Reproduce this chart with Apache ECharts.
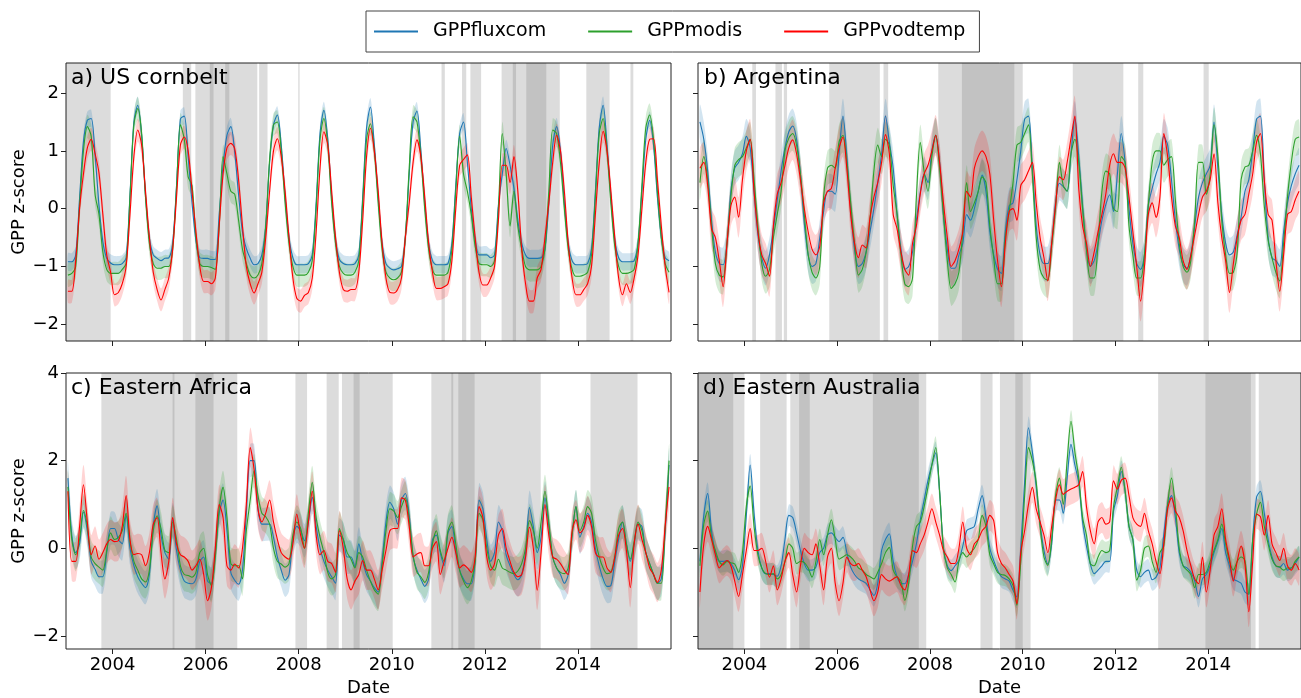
<!DOCTYPE html>
<html><head><meta charset="utf-8">
<script src="https://cdn.jsdelivr.net/npm/echarts@6/dist/echarts.min.js"></script>
<style>html,body{margin:0;padding:0;background:#fff}#chart{width:1301px;height:698px}</style>
</head><body><div id="chart"></div>
<script>
// ---------- data (monthly values, Jan 2003 .. Dec 2015) ----------
const START_YEAR = 2003;
const xTickLabels = [2004, 2006, 2008, 2010, 2012, 2014];
const yTicksTop = [-2, -1, 0, 1, 2];
const yTicksBottom = [-2, 0, 2, 4];
const seriesNames = ['GPPfluxcom', 'GPPmodis', 'GPPvodtemp'];
const panelTitles = ['a) US cornbelt', 'b) Argentina', 'c) Eastern Africa', 'd) Eastern Australia'];

// a) US cornbelt
const usFluxcom = [
-0.92,-0.92,-0.80,0.18,1.16,1.53,1.56,0.93,0.06,-0.57,-0.86,-0.94,
-0.97,-0.97,-0.95,-0.85,0.24,1.50,1.79,1.27,0.24,-0.51,-0.80,-0.86,
-0.90,-0.86,-0.85,-0.60,0.40,1.55,1.60,0.90,0.10,-0.55,-0.85,-0.86,
-0.86,-0.88,-0.88,-0.10,0.75,1.27,1.42,0.98,0.24,-0.40,-0.69,-0.86,
-0.97,-0.95,-0.80,-0.30,0.80,1.45,1.62,1.10,0.20,-0.50,-0.85,-0.97,
-0.97,-0.97,-0.95,-0.80,0.10,1.30,1.70,1.20,0.20,-0.55,-0.88,-0.95,
-0.97,-0.97,-0.95,-0.80,0.20,1.40,1.76,1.10,0.20,-0.60,-0.95,-1.03,
-1.06,-1.04,-1.00,-0.50,0.60,1.50,1.69,1.00,0.10,-0.60,-0.90,-0.97,
-0.97,-0.97,-0.95,-0.60,0.40,1.30,1.50,0.80,0.00,-0.55,-0.80,-0.80,
-0.80,-0.85,-0.80,0.06,0.60,1.04,0.75,0.35,-0.20,-0.60,-0.80,-0.86,
-0.86,-0.86,-0.85,-0.70,0.10,1.10,1.42,1.00,0.10,-0.60,-0.90,-0.97,
-0.97,-0.97,-0.95,-0.70,0.30,1.40,1.79,1.10,0.20,-0.55,-0.85,-0.92,
-0.92,-0.92,-0.90,-0.60,0.30,1.20,1.53,1.10,0.20,-0.50,-0.85,-0.90];
const usModis = [
-1.15,-1.12,-1.00,0.05,1.00,1.42,1.25,0.25,-0.10,-0.75,-1.05,-1.12,
-1.12,-1.12,-1.05,-0.95,0.20,1.45,1.73,1.30,0.20,-0.60,-0.95,-1.03,
-1.03,-1.00,-1.00,-0.70,0.35,1.45,1.20,0.55,0.40,-0.50,-0.95,-1.00,
-1.00,-1.02,-1.05,-0.30,0.90,0.60,0.30,0.25,-0.20,-0.70,-0.95,-1.15,
-1.20,-1.15,-0.95,-0.30,0.85,1.45,1.50,1.00,0.10,-0.60,-1.00,-1.15,
-1.15,-1.15,-1.10,-0.90,0.00,1.20,1.56,1.10,0.10,-0.60,-1.00,-1.12,
-1.15,-1.15,-1.10,-0.90,0.10,1.20,1.47,1.00,0.10,-0.70,-1.10,-1.20,
-1.23,-1.20,-1.10,-0.50,0.70,1.59,1.50,0.90,0.00,-0.70,-1.05,-1.15,
-1.15,-1.15,-1.10,-0.70,0.30,1.25,0.60,0.30,-0.10,-0.65,-0.95,-0.97,
-0.97,-1.00,-0.90,0.00,1.30,0.60,-0.30,0.30,-0.30,-0.70,-1.00,-1.06,
-1.06,-1.06,-1.00,-0.70,0.30,1.36,1.30,0.80,0.00,-0.70,-1.05,-1.17,
-1.17,-1.15,-1.10,-0.80,0.20,1.30,1.56,1.00,0.10,-0.65,-1.00,-1.12,
-1.12,-1.10,-1.05,-0.60,0.40,1.40,1.62,1.20,0.30,-0.50,-0.95,-1.10];
const usVodtemp = [
-1.43,-1.43,-0.90,0.00,0.60,1.05,1.20,0.95,0.62,-0.10,-0.80,-1.10,
-1.49,-1.45,-1.30,-1.00,-0.10,0.90,1.36,1.10,0.30,-0.50,-1.10,-1.40,
-1.58,-1.40,-1.20,-0.70,0.20,1.10,1.24,1.00,0.30,-0.40,-1.00,-1.26,
-1.26,-1.30,-1.20,-0.30,0.60,1.05,1.13,1.04,0.50,-0.30,-1.00,-1.30,
-1.46,-1.30,-1.10,-0.50,0.30,1.00,1.21,0.90,0.30,-0.50,-1.20,-1.55,
-1.60,-1.50,-1.45,-1.20,-0.40,0.70,1.33,1.10,0.30,-0.50,-1.10,-1.40,
-1.43,-1.40,-1.40,-1.10,-0.20,0.90,1.39,1.00,0.30,-0.60,-1.20,-1.45,
-1.46,-1.40,-1.20,-0.50,0.10,0.80,1.19,0.90,0.20,-0.60,-1.10,-1.38,
-1.38,-1.35,-1.30,-0.90,0.00,0.75,0.85,0.93,0.20,-0.50,-1.10,-1.32,
-1.32,-1.20,-1.00,-0.20,0.75,0.75,0.45,0.90,0.30,-0.70,-1.30,-1.60,
-1.60,-1.20,-1.05,-0.50,0.10,0.80,1.27,1.00,0.30,-0.60,-1.20,-1.49,
-1.49,-1.40,-1.30,-1.00,-0.10,0.80,1.34,1.00,0.30,-0.50,-1.20,-1.49,
-1.30,-1.45,-1.20,-0.80,0.00,0.80,1.20,1.21,0.50,-0.30,-1.00,-1.45];
const usBand = [0.15, 0.2, 0.2];
const usSpans = [[2003.0,2003.96],[2005.51,2005.69],[2005.78,2007.11],[2007.15,2007.33],[2007.99,2008.02],[2011.07,2011.14],[2011.51,2011.60],[2011.69,2011.92],[2012.36,2013.61],[2014.18,2014.68],[2015.13,2015.19]];
const usOverlap = [[2006.09,2006.17],[2006.42,2006.51],[2012.60,2012.67],[2012.89,2013.32]];

// b) Argentina
const arFluxcom = [
1.50,1.20,0.65,-0.20,-0.75,-0.95,-0.97,-0.60,0.30,0.70,0.80,0.95,
1.25,1.05,0.30,-0.45,-0.85,-1.03,-0.80,-0.35,0.15,0.65,1.05,1.33,
1.43,1.20,0.60,-0.25,-0.80,-1.00,-0.95,-0.50,-0.05,0.30,0.30,0.25,
0.95,1.60,0.90,0.00,-0.70,-1.00,-0.95,-0.75,-0.40,0.00,0.45,0.95,
1.60,1.15,0.70,-0.10,-0.70,-1.05,-1.00,-0.75,-0.20,0.28,0.60,0.45,
1.00,1.27,0.80,-0.10,-0.70,-1.03,-1.03,-0.80,-0.60,-0.10,-0.20,0.00,
0.30,0.58,0.30,-0.40,-0.80,-1.05,-1.12,-0.40,0.05,0.10,0.50,1.00,
1.55,1.60,0.70,-0.30,-0.80,-0.95,-0.95,-0.60,0.10,0.44,0.38,0.30,
0.95,1.56,0.90,0.05,-0.70,-1.00,-0.90,-0.60,-0.20,0.07,0.24,-0.05,
0.60,1.30,0.80,0.00,-0.60,-0.95,-1.05,-0.80,0.06,0.35,0.60,0.80,
1.25,1.10,0.50,-0.20,-0.70,-0.97,-1.03,-0.80,-0.30,0.20,0.45,0.60,
0.75,1.50,0.70,-0.10,-0.60,-0.80,-0.75,-0.45,-0.15,0.30,0.50,1.00,
1.55,1.60,0.50,-0.50,-0.85,-0.90,-1.00,-0.40,0.10,0.40,0.60,0.75];
const arModis = [
0.45,0.90,0.50,-0.30,-0.95,-1.15,-1.18,-0.60,0.20,0.75,0.85,0.90,
1.05,1.20,0.50,-0.30,-0.95,-1.17,-1.05,-0.50,-0.10,0.30,1.00,1.22,
1.30,1.10,0.60,-0.10,-0.80,-1.10,-1.20,-1.00,0.20,0.70,0.75,0.70,
1.16,1.27,0.80,0.10,-0.60,-1.15,-1.05,-0.75,-0.20,0.65,1.10,0.90,
1.20,1.10,0.40,-0.10,-0.80,-1.30,-1.35,-1.20,0.20,1.15,0.64,0.30,
0.90,1.27,0.70,-0.10,-0.90,-1.38,-1.30,-1.10,-0.40,0.45,-0.05,0.10,
0.30,0.55,0.45,-0.30,-0.85,-1.30,-1.30,-0.50,-0.05,0.45,1.10,1.15,
1.30,1.45,0.60,-0.50,-1.05,-1.20,-1.24,-0.65,0.00,0.80,0.40,0.30,
0.95,1.20,0.80,0.00,-0.70,-1.20,-1.20,-0.60,0.30,0.65,0.60,0.00,
-0.05,0.90,0.80,-0.30,-0.80,-1.20,-1.20,-0.80,0.06,0.80,1.00,1.00,
0.75,0.85,0.90,0.15,-0.60,-1.00,-1.10,-0.90,-0.20,0.80,0.80,0.25,
0.60,1.45,0.90,-0.20,-0.80,-1.12,-1.10,-0.75,0.50,0.72,0.75,1.00,
1.27,0.95,0.05,-0.55,-0.85,-1.10,-1.25,-0.60,0.20,0.80,1.20,1.24];
const arVodtemp = [
0.70,0.80,0.40,-0.35,-0.50,-0.90,-1.35,-0.60,0.05,0.20,-0.15,0.50,
1.00,1.20,0.30,-0.40,-0.80,-0.95,-1.17,-0.30,0.25,0.45,0.75,1.05,
1.19,0.95,0.50,0.00,-0.40,-0.70,-0.80,-0.65,0.10,0.30,0.35,0.70,
1.05,1.24,0.70,-0.10,-0.60,-0.85,-0.63,-0.68,-0.15,0.20,0.45,0.80,
1.28,0.95,-0.10,-0.35,-0.75,-1.05,-1.15,-0.60,-0.30,0.25,0.60,0.75,
1.00,1.27,0.80,0.10,-0.50,-1.00,-0.90,-0.70,-0.40,0.30,0.20,0.70,
0.90,1.00,0.90,0.60,-0.20,-0.90,-1.35,-0.60,-0.05,0.00,-0.20,0.40,
0.50,0.65,0.80,0.10,-0.50,-0.85,-1.25,-0.60,0.05,0.55,0.50,0.80,
1.22,1.60,0.35,-0.30,-0.60,-1.00,-0.75,-0.40,-0.10,0.25,0.75,0.95,
0.80,0.80,0.70,0.20,-0.40,-1.00,-1.60,-1.00,-0.10,0.10,-0.15,0.20,
1.30,0.90,0.20,-0.30,-0.50,-0.90,-1.05,-0.80,-0.45,-0.10,0.20,0.30,
0.50,0.95,0.10,-0.50,-0.90,-1.45,-0.95,-0.50,-0.20,-0.10,0.25,0.60,
1.15,1.30,0.50,-0.10,-0.20,-0.90,-1.43,-0.80,-0.10,-0.05,0.15,0.30];
const arBand = [0.3, 0.3, 0.35];
const arSpans = [[2004.17,2004.25],[2004.67,2004.81],[2004.85,2004.92],[2005.83,2006.92],[2007.0,2007.10],[2008.18,2010.0],[2011.08,2012.17],[2012.49,2012.60],[2013.90,2014.01]];
const arOverlap = [[2008.69,2009.82]];

// c) Eastern Africa
const eafFluxcom = [
1.60,0.30,-0.10,0.10,0.82,0.40,-0.30,-0.48,-0.65,-0.65,-0.10,0.45,
0.45,0.20,0.10,0.75,0.00,-0.40,-0.65,-0.80,-0.90,-0.60,0.50,0.97,
0.30,-0.10,-0.25,0.65,-0.05,-0.50,-0.75,-0.80,-0.81,-0.70,-0.30,-0.20,
-0.75,-0.80,-0.10,0.80,1.10,0.40,-0.55,-0.73,-0.82,-0.50,0.80,2.00,
2.00,0.90,0.55,0.55,0.55,0.25,-0.20,-0.50,-0.73,-0.60,0.20,0.50,
0.40,0.17,0.60,1.16,0.50,0.00,-0.30,-0.50,-0.65,-0.80,0.30,0.20,
-0.20,-0.20,-0.43,0.10,-0.30,-0.60,-0.75,-0.90,-1.00,-0.30,0.60,1.05,
0.90,0.55,1.10,1.25,0.75,-0.20,-0.50,-0.70,-0.87,-0.70,0.20,0.30,
-0.10,-0.40,0.35,0.50,-0.05,-0.50,-0.70,-0.81,-0.81,-0.30,1.10,0.90,
0.20,-0.30,-0.10,0.60,0.40,-0.15,-0.40,-0.60,-0.72,-0.60,-0.10,0.93,
0.50,-0.10,0.25,1.15,0.50,-0.20,-0.45,-0.60,-0.80,-0.60,0.30,0.95,
0.25,0.50,0.80,0.60,0.00,-0.40,-0.70,-0.87,-0.85,-0.30,0.20,0.60,
0.10,-0.30,0.10,0.55,0.50,-0.10,-0.35,-0.60,-0.80,-0.70,0.40,1.90];
const eafModis = [
1.40,0.20,-0.15,0.20,0.86,0.50,-0.20,-0.35,-0.43,-0.50,-0.05,0.35,
0.20,0.25,0.40,0.80,0.15,-0.30,-0.50,-0.70,-0.77,-0.50,0.40,0.74,
0.45,-0.05,-0.10,0.60,0.20,-0.40,-0.60,-0.62,-0.66,-0.55,-0.10,0.00,
-0.60,-0.85,-0.20,0.90,1.39,0.70,-0.35,-0.40,-0.40,-0.70,0.40,1.10,
1.77,1.20,0.80,0.72,0.55,0.00,-0.30,-0.36,-0.43,-0.35,0.30,0.60,
0.45,0.00,0.80,1.50,0.70,0.25,-0.10,-0.55,-0.70,-0.60,0.45,0.20,
-0.10,-0.25,-0.45,-0.10,-0.20,-0.50,-0.75,-0.95,-1.05,-0.40,0.40,0.90,
0.85,0.70,0.95,1.15,0.65,-0.15,-0.55,-0.65,-0.78,-0.55,0.10,0.40,
-0.05,-0.30,0.40,0.60,0.10,-0.50,-0.75,-0.90,-0.75,-0.30,0.80,0.65,
0.00,-0.40,-0.50,-0.25,-0.45,-0.50,-0.55,-0.58,-0.52,-0.35,0.00,0.63,
0.40,0.00,0.60,1.30,0.60,-0.20,-0.45,-0.55,-0.58,-0.45,0.30,0.95,
0.40,0.60,0.95,0.80,0.20,-0.20,-0.45,-0.58,-0.55,-0.20,0.45,0.60,
0.10,-0.25,0.15,0.60,0.40,-0.10,-0.35,-0.60,-0.80,-0.80,0.50,2.00];
const eafVodtemp = [
1.30,-0.30,-0.30,0.50,1.45,0.60,-0.15,0.05,-0.25,-0.10,0.10,0.20,
0.15,0.17,0.50,1.20,0.20,-0.15,-0.12,-0.15,-0.40,-0.10,0.55,0.70,
-0.10,-0.70,-0.30,0.70,0.10,-0.15,-0.20,-0.30,-0.50,-0.40,-0.25,-0.60,
-1.20,-0.90,0.00,1.00,0.70,-0.40,-0.50,-0.36,-0.45,0.00,1.00,2.30,
1.80,0.90,0.60,0.80,1.10,0.60,0.20,-0.10,-0.20,-0.25,0.10,0.78,
0.30,0.00,0.60,1.30,0.30,-0.15,-0.05,-0.30,-0.35,-0.55,0.40,0.00,
-0.70,-0.95,-0.75,-0.60,-0.28,-0.50,-0.50,-0.70,-0.95,-0.50,-0.05,0.40,
0.45,0.45,1.15,1.10,0.50,-0.20,-0.13,-0.10,-0.40,-0.40,0.00,0.15,
-0.60,-0.30,0.00,0.25,-0.10,-0.45,-0.38,-0.45,-0.55,-0.20,0.95,0.70,
-0.20,-0.50,-0.35,0.30,0.45,0.00,-0.30,-0.55,-0.65,-0.60,-0.20,0.48,
0.00,-0.96,-0.10,1.00,0.30,-0.20,-0.25,-0.35,-0.50,-0.60,0.40,0.65,
0.35,0.45,0.75,0.50,-0.10,-0.20,-0.20,-0.45,-0.55,-0.20,0.30,0.45,
-0.05,-0.90,0.10,0.55,0.20,-0.10,-0.45,-0.60,-0.78,-0.50,0.50,1.40];
const eafBand = [0.38, 0.38, 0.45];
const eafSpans = [[2003.76,2006.68],[2007.93,2008.18],[2008.60,2008.86],[2008.93,2010.02],[2010.85,2013.20],[2014.27,2015.28]];
const eafOverlap = [[2005.29,2005.33],[2005.78,2006.17],[2009.18,2009.31],[2011.28,2011.32],[2011.43,2011.78]];

// d) Eastern Australia
const eauFluxcom = [
-0.30,0.75,1.25,0.40,-0.10,-0.30,-0.30,-0.28,-0.35,-0.50,-0.72,-0.40,
0.75,1.90,0.80,-0.05,-0.45,-0.58,-0.58,-0.60,-0.64,-0.40,0.20,0.75,
0.70,0.35,-0.05,-0.35,-0.50,-0.50,-0.43,-0.10,0.00,0.30,0.35,0.25,
0.15,0.25,-0.10,-0.43,-0.60,-0.70,-0.75,-0.80,-0.95,-1.08,-0.80,-0.05,
0.20,0.33,-0.30,-0.65,-0.80,-0.81,-0.60,-0.30,0.10,0.65,1.10,1.55,
1.90,2.18,1.30,0.00,-0.40,-0.51,-0.40,-0.28,0.05,0.40,0.45,0.50,
0.90,1.20,0.70,0.00,-0.28,-0.50,-0.65,-0.70,-0.75,-0.96,-1.11,0.00,
1.50,2.75,2.20,1.40,0.55,-0.05,-0.36,0.10,1.10,1.10,0.80,1.60,
2.37,1.90,1.50,0.60,0.05,-0.36,-0.58,-0.50,-0.40,-0.30,-0.30,0.85,
1.20,1.75,1.30,0.50,0.20,-0.50,-0.65,-0.55,-0.50,-0.72,-0.66,-0.45,
0.30,1.00,1.20,0.70,-0.10,-0.40,-0.45,-0.55,-0.75,-1.10,-0.70,-0.60,
-0.40,-0.10,0.15,0.45,-0.10,-0.40,-0.70,-0.75,-0.80,-1.00,-1.05,0.20,
1.16,1.30,0.80,0.20,-0.20,-0.40,-0.43,-0.35,-0.50,-0.45,-0.35,-0.20];
const eauModis = [
-0.40,0.55,0.85,0.25,-0.05,-0.30,-0.38,-0.30,-0.33,-0.36,-0.55,-0.10,
0.95,1.42,0.50,-0.15,-0.45,-0.58,-0.60,-0.58,-0.70,-0.60,-0.30,0.10,
0.00,-0.35,-0.30,-0.33,-0.45,-0.66,-0.30,0.20,-0.15,0.30,0.65,0.20,
-0.25,-0.20,-0.15,-0.20,-0.30,-0.45,-0.50,-0.60,-0.65,-0.70,-0.55,-0.35,
-0.10,0.02,-0.50,-0.66,-0.75,-1.19,-0.80,0.05,0.50,0.60,0.95,1.40,
1.90,2.30,1.30,0.00,-0.45,-0.60,-0.77,-0.30,-0.10,-0.20,-0.10,0.00,
0.20,0.75,0.50,-0.15,-0.36,-0.55,-0.60,-0.62,-0.70,-0.85,-1.30,-0.30,
1.20,2.30,2.00,1.50,0.50,-0.20,-0.39,0.20,1.20,1.60,1.00,2.00,
2.90,2.20,1.60,0.70,0.30,-0.35,-0.40,-0.20,-0.05,-0.10,-0.05,0.95,
1.40,1.85,1.30,0.50,0.20,-0.73,-0.50,0.00,0.05,-0.30,-0.55,-0.10,
0.05,1.00,1.60,0.95,0.00,-0.40,-0.50,-0.60,-0.90,-0.60,-0.60,-0.55,
-0.30,-0.05,0.20,0.55,0.10,-0.30,-0.50,-0.30,-0.20,-0.28,-1.05,0.20,
0.78,1.05,0.50,0.10,-0.25,-0.40,-0.43,-0.50,-0.45,-0.45,-0.30,-0.20];
const eauVodtemp = [
-1.00,0.10,0.50,0.20,-0.15,-0.45,-0.35,-0.28,-0.40,-0.75,-1.10,-0.60,
-0.05,0.45,-0.05,-0.05,0.00,-0.30,-0.66,-0.40,-0.95,-0.70,-0.30,-0.10,
-0.60,-1.00,-0.40,0.00,-0.10,-0.15,0.10,-0.40,-0.95,-0.20,0.00,-0.80,
-1.20,-0.80,-0.20,-0.35,-0.40,-0.35,-0.50,-0.65,-0.95,-1.20,-1.00,-0.60,
-0.70,-0.75,-0.70,-0.65,-0.85,-0.95,-0.60,-0.05,-0.10,0.10,0.30,0.60,
0.90,0.60,0.30,-0.05,-0.20,-0.35,-0.35,0.00,0.60,0.00,-0.15,0.10,
0.20,0.40,0.50,0.75,0.63,-0.10,-0.35,-0.45,-0.60,-0.75,-1.27,-0.10,
0.40,1.00,1.39,0.90,0.60,0.30,-0.10,0.50,1.10,1.45,1.23,1.30,
1.35,1.39,1.45,1.75,0.95,0.40,0.10,0.60,0.70,0.55,0.60,1.54,
1.35,1.55,1.60,1.20,0.70,0.55,0.50,0.80,0.40,0.10,-0.30,-0.58,
0.10,0.90,1.15,0.85,0.70,0.40,-0.05,-0.40,-0.70,-0.81,-0.20,-1.00,
-0.50,0.30,0.50,0.90,0.20,-0.25,-0.75,-0.30,0.05,-0.35,-1.45,-0.30,
0.78,0.72,0.30,0.75,0.10,-0.10,-0.28,0.00,-0.40,-0.50,-0.35,-0.50];
const eauBand = [0.25, 0.25, 0.35];
const eauSpans = [[2003.0,2004.0],[2004.34,2004.91],[2004.99,2007.92],[2009.09,2009.35],[2009.51,2010.17],[2012.92,2015.02],[2015.09,2016.0]];
const eauOverlap = [[2003.0,2003.76],[2005.18,2005.41],[2006.77,2007.76],[2009.84,2010.0],[2013.94,2014.92]];

// ---------- build chart ----------
const monthTime = i => START_YEAR + (i + 0.5) / 12;
const lineColors = ['#1f77b4', '#2ca02c', '#ff0000'];
const bandColors = ['rgba(31,119,180,0.2)', 'rgba(44,160,44,0.2)', 'rgba(255,0,0,0.17)'];
const FONT = 'DejaVu Sans';
const SMOOTH = 0.3;

const panels = [
  { values: [usFluxcom, usModis, usVodtemp], band: usBand, spans: usSpans, overlap: usOverlap, yMin: -2.29, yMax: 2.52, ticks: yTicksTop },
  { values: [arFluxcom, arModis, arVodtemp], band: arBand, spans: arSpans, overlap: arOverlap, yMin: -2.29, yMax: 2.52, ticks: yTicksTop },
  { values: [eafFluxcom, eafModis, eafVodtemp], band: eafBand, spans: eafSpans, overlap: eafOverlap, yMin: -2.3, yMax: 4.0, ticks: yTicksBottom },
  { values: [eauFluxcom, eauModis, eauVodtemp], band: eauBand, spans: eauSpans, overlap: eauOverlap, yMin: -2.3, yMax: 4.0, ticks: yTicksBottom }
];
const gridPos = [[66, 63], [698, 63], [66, 373], [698, 373]];
const titlePos = [[71, 67], [704, 67], [71, 377], [703, 377]];

const grid = gridPos.map(([l, t]) => ({
  left: l, top: t, width: 605, height: 278, show: true, z: 10,
  backgroundColor: 'transparent', borderColor: '#222', borderWidth: 1
}));

const xAxis = panels.map((p, i) => ({
  gridIndex: i, type: 'value', position: 'bottom', min: 2003, max: 2016, z: 10,
  axisLine: { show: false, onZero: false }, splitLine: { show: false },
  axisTick: { show: true, customValues: xTickLabels, length: 5, lineStyle: { color: '#222' } },
  axisLabel: { show: i >= 2, customValues: xTickLabels, formatter: v => String(v),
    fontSize: 18, color: '#000', fontFamily: FONT, margin: 7 },
  name: i >= 2 ? 'Date' : '', nameLocation: 'middle', nameGap: 30,
  nameTextStyle: { fontSize: 18, color: '#000', fontFamily: FONT }
}));

const yAxis = panels.map((p, i) => ({
  gridIndex: i, type: 'value', position: 'left', min: p.yMin, max: p.yMax, z: 10,
  axisLine: { show: false, onZero: false }, splitLine: { show: false },
  axisTick: { show: true, customValues: p.ticks, length: 5, lineStyle: { color: '#222' } },
  axisLabel: { show: i % 2 === 0, customValues: p.ticks, fontSize: 18, color: '#000', fontFamily: FONT, margin: 7,
    formatter: v => String(v).replace('-', '\u2212') },
  name: i % 2 === 0 ? 'GPP z-score' : '', nameLocation: 'middle', nameGap: 38,
  nameTextStyle: { fontSize: 18, color: '#000', fontFamily: FONT }
}));

const series = [];
panels.forEach((p, pi) => {
  // shaded periods
  series.push({
    type: 'line', name: 'periods', xAxisIndex: pi, yAxisIndex: pi, silent: true,
    data: [[2003, 0]], symbol: 'none', lineStyle: { width: 0, opacity: 0 },
    markArea: {
      silent: true, z: 1,
      itemStyle: { color: 'rgba(128,128,128,0.28)', borderWidth: 0 },
      data: p.spans.concat(p.overlap).map(([s, e]) => [{ xAxis: s }, { xAxis: e }])
    }
  });
  // uncertainty bands
  p.values.forEach((vals, k) => {
    const hw = p.band[k];
    series.push({
      type: 'custom', name: seriesNames[k] + ' range', xAxisIndex: pi, yAxisIndex: pi,
      silent: true, z: 2, clip: true,
      data: vals.map((v, i) => [monthTime(i), v - hw, v + hw]),
      encode: { x: 0, y: [1, 2] },
      renderItem: (params, api) => {
        if (params.dataIndexInside !== 0) return null;
        const n = params.dataInsideLength;
        const up = [], lo = [];
        for (let i = 0; i < n; i++) {
          const t = api.value(0, i);
          up.push(api.coord([t, api.value(2, i)]));
          lo.push(api.coord([t, api.value(1, i)]));
        }
        return { type: 'polygon', shape: { points: up.concat(lo.reverse()), smooth: SMOOTH }, style: { fill: bandColors[k] } };
      }
    });
  });
  // lines
  p.values.forEach((vals, k) => {
    series.push({
      type: 'line', name: seriesNames[k], xAxisIndex: pi, yAxisIndex: pi, z: 3,
      data: vals.map((v, i) => [monthTime(i), v]),
      symbol: 'none', showSymbol: false, smooth: SMOOTH,
      lineStyle: { color: lineColors[k], width: 1.1 },
      itemStyle: { color: lineColors[k] }
    });
  });
});

const chart = echarts.init(document.getElementById('chart'), null, { renderer: 'canvas' });
chart.setOption({
  animation: false,
  backgroundColor: '#fff',
  textStyle: { fontFamily: FONT },
  title: panelTitles.map((t, i) => ({
    text: t, left: titlePos[i][0], top: titlePos[i][1], padding: 0,
    textStyle: { fontSize: 22, fontWeight: 'normal', color: '#000', fontFamily: FONT }
  })),
  legend: {
    data: seriesNames, left: 366, top: 11, orient: 'horizontal',
    padding: [11, 14, 11, 8], itemGap: 42, itemWidth: 44, itemHeight: 2, icon: 'rect',
    borderColor: '#444', borderWidth: 1, borderRadius: 0,
    textStyle: { fontSize: 19, color: '#000', fontFamily: FONT, padding: [0, 0, 0, 10] }
  },
  grid, xAxis, yAxis, series
});
</script></body></html>
